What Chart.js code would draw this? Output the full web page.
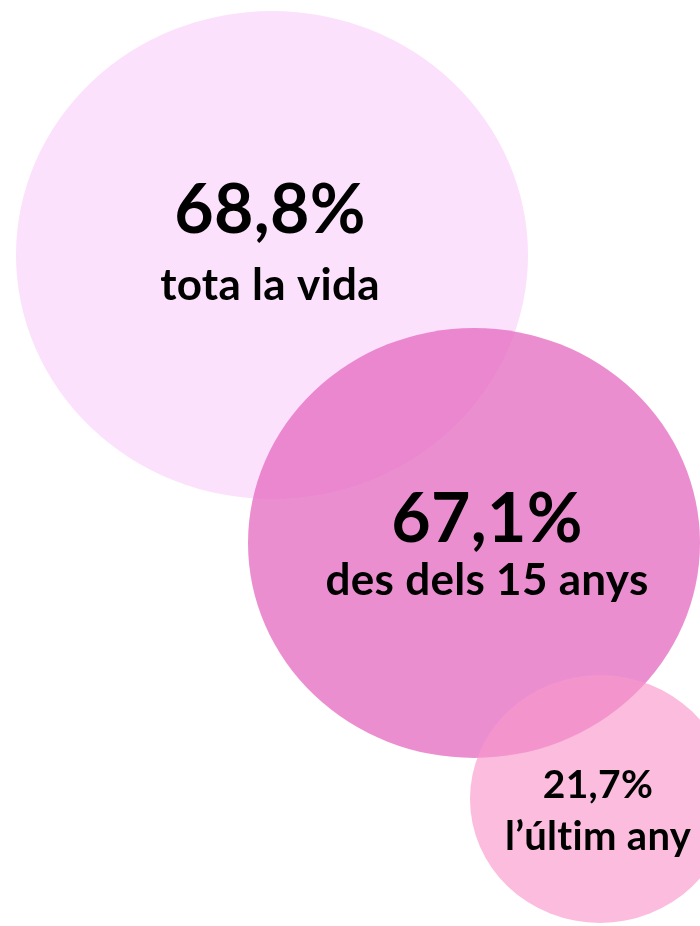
<!DOCTYPE html>
<html>
<head>
<meta charset="utf-8">
<script src="https://cdn.jsdelivr.net/npm/chart.js@4"></script>
<style>
  html, body { margin: 0; padding: 0; background: #ffffff; }
  canvas { display: block; }
</style>
</head>
<body>
<canvas id="myChart" width="700" height="926"></canvas>
<script>
// values shown in each bubble
var percentLabels = ['68,8%', '67,1%', '21,7%'];
var periodLabels = ['tota la vida', 'des dels 15 anys', 'l\u2019últim any'];
// bubble centres and radii (chart units)
var bubbleX = [272, 474, 600];
var bubbleY = [255, 543, 799];
var bubbleR = [244, 215, 124];
var bubbleColors = ['#FCE1FC', 'rgba(228, 104, 192, 0.75)', 'rgba(249, 152, 203, 0.65)'];

document.addEventListener('DOMContentLoaded', function() {
    // bubbles in the original are a bit wider than tall
    var stretch = 1.05;
    function ellipseImage(r, color) {
        var c = document.createElement('canvas');
        var rx = r * stretch;
        c.width = Math.round(rx * 2);
        c.height = Math.round(r * 2);
        var g = c.getContext('2d');
        g.fillStyle = color;
        g.beginPath();
        g.ellipse(c.width / 2, c.height / 2, c.width / 2, c.height / 2, 0, 0, Math.PI * 2);
        g.fill();
        return c;
    }

    var points = [];
    var styles = [];
    for (var i = 0; i < bubbleX.length; i++) {
        points.push({ x: bubbleX[i], y: bubbleY[i], r: bubbleR[i] });
        styles.push(ellipseImage(bubbleR[i], bubbleColors[i]));
    }

    // text drawn on top of each bubble (offsets from the centre, baselines)
    var textOffsets = [
        { dx: -2, big: -22, small: 45, bigSize: 68, smallSize: 44 },
        { dx: 13, big: -1, small: 52, bigSize: 68, smallSize: 44 },
        { dx: -2, big: -1, small: 51, bigSize: 39, smallSize: 40 }
    ];
    var labelPlugin = {
        id: 'bubbleLabels',
        afterDatasetsDraw: function(chart) {
            var ctx = chart.ctx;
            var meta = chart.getDatasetMeta(0);
            ctx.save();
            ctx.fillStyle = '#000000';
            ctx.textAlign = 'center';
            ctx.textBaseline = 'alphabetic';
            ctx.letterSpacing = '0.3px'; // also stops the "ti" ligature
            meta.data.forEach(function(el, i) {
                var o = textOffsets[i];
                ctx.font = 'bold ' + o.bigSize + 'px Lato, "Open Sans", sans-serif';
                ctx.fillText(percentLabels[i], el.x + o.dx, el.y + o.big);
                ctx.font = 'bold ' + o.smallSize + 'px Lato, "Open Sans", sans-serif';
                ctx.fillText(periodLabels[i], el.x + o.dx, el.y + o.small);
            });
            ctx.restore();
        }
    };

    var ctx = document.getElementById('myChart').getContext('2d');
    var myChart = new Chart(ctx, {
        type: 'bubble',
        data: {
            datasets: [{
                label: 'Percentatge',
                data: points,
                backgroundColor: bubbleColors,
                pointStyle: styles,
                borderWidth: 0,
                hoverBorderWidth: 0,
                clip: false
            }]
        },
        options: {
            responsive: false,
            animation: false,
            events: [],
            layout: { padding: 0, autoPadding: false },
            plugins: {
                legend: { display: false },
                tooltip: { enabled: false }
            },
            scales: {
                x: { type: 'linear', min: 0, max: 700, display: false },
                y: { type: 'linear', min: 0, max: 926, reverse: true, display: false }
            }
        },
        plugins: [labelPlugin]
    });
});
</script>
</body>
</html>
